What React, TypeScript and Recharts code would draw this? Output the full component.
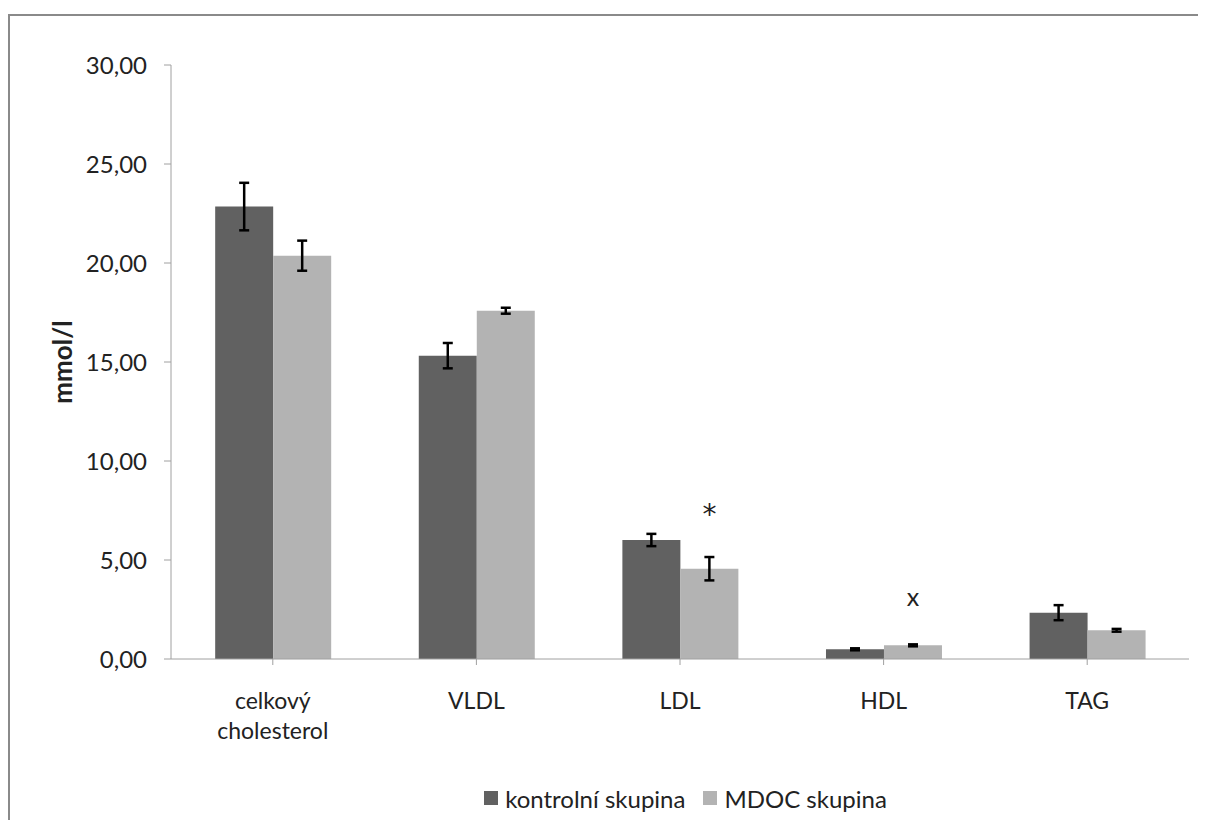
import {
  Bar,
  BarChart,
  ErrorBar,
  LabelList,
  Label,
  Legend,
  XAxis,
  YAxis,
} from "recharts";

const categories = ["celkový cholesterol", "VLDL", "LDL", "HDL", "TAG"];
const kontrolni = [22.85, 15.32, 6.01, 0.49, 2.34];
const kontrolniErr = [1.2, 0.64, 0.31, 0.05, 0.38];
const mdoc = [20.37, 17.59, 4.56, 0.69, 1.45];
const mdocErr = [0.76, 0.15, 0.59, 0.05, 0.07];
const marks = ["", "", "*", "x", ""];
const yTicks = [0, 5, 10, 15, 20, 25, 30];

const FONT = "Lato, 'Open Sans', sans-serif";
const DARK = "#616161";
const LIGHT = "#b3b3b3";
const AXIS = "#a0a0a0";

const data = categories.map((name, i) => ({
  name,
  kontrolni: kontrolni[i],
  kontrolniErr: kontrolniErr[i],
  mdoc: mdoc[i],
  mdocErr: mdocErr[i],
}));

// long names go on two lines, like the original
const CategoryTick = (props: any) => {
  const { x, y, payload } = props;
  const lines =
    payload.value.length > 12 ? payload.value.split(" ") : [payload.value];
  return (
    <text
      x={x}
      y={y + 42}
      textAnchor="middle"
      fontSize={23}
      fontFamily={FONT}
      fill="#222"
    >
      {lines.map((l: string, i: number) => (
        <tspan key={i} x={x} dy={i === 0 ? 0 : 30}>
          {l}
        </tspan>
      ))}
    </text>
  );
};

const markStyle: Record<string, { font: string; size: number; off: number }> = {
  "*": { font: "'DejaVu Sans', sans-serif", size: 28, off: 33 },
  x: { font: FONT, size: 25, off: 38 },
};

// significance marks sit above the upper error bar of the MDOC bar
const renderMark = (props: any) => {
  const vb = props.viewBox ?? props;
  const { x, y, width, height } = vb;
  const index = props.index;
  const mark = marks[index];
  if (!mark) return null;
  const st = markStyle[mark];
  const pxPerUnit = height / mdoc[index];
  const errTop = y - mdocErr[index] * pxPerUnit;
  return (
    <text
      x={x + width / 2}
      y={errTop - st.off}
      textAnchor="middle"
      fontSize={st.size}
      fontFamily={st.font}
      fill="#222"
    >
      {mark}
    </text>
  );
};

const renderYLabel = () => {
  const cx = 52;
  const cy = 346;
  return (
    <text
      x={cx}
      y={cy}
      transform={`rotate(-90, ${cx}, ${cy})`}
      textAnchor="middle"
      dominantBaseline="central"
      fontSize={26}
      fontWeight="bold"
      fontFamily={FONT}
      fill="#222"
    >
      mmol/l
    </text>
  );
};

const legendItems = [
  { label: "kontrolní skupina", color: DARK },
  { label: "MDOC skupina", color: LIGHT },
];

const renderLegend = () => (
  <div
    style={{
      width: 1188,
      height: 30,
      boxSizing: "border-box",
      paddingLeft: 163,
      display: "flex",
      justifyContent: "center",
      alignItems: "center",
      fontFamily: FONT,
      fontSize: 24,
      color: "#222",
    }}
  >
    {legendItems.map((it) => (
      <span
        key={it.label}
        style={{ display: "flex", alignItems: "center", margin: "0 9px" }}
      >
        <span
          style={{
            width: 14,
            height: 14,
            background: it.color,
            marginRight: 7,
            display: "inline-block",
          }}
        />
        {it.label}
      </span>
    ))}
  </div>
);

export default function App() {
  return (
    <div
      style={{
        position: "relative",
        width: 1198,
        height: 812,
        overflow: "hidden",
      }}
    >
      <style>{"html, body { overflow: hidden; }"}</style>
      <div
        style={{
          position: "absolute",
          left: 0,
          top: 6,
          width: 1400,
          height: 900,
          borderTop: "2px solid #8a8a8a",
          borderLeft: "2px solid #8a8a8a",
        }}
      />
      <div style={{ position: "absolute", left: 2, top: 8 }}>
        <BarChart
          width={1250}
          height={800}
          data={data}
          margin={{ top: 49, right: 71, bottom: 3, left: 0 }}
          barCategoryGap="21.7%"
          barGap={0}
          accessibilityLayer={false}
        >
          <XAxis
            dataKey="name"
            height={124}
            stroke={AXIS}
            tickSize={6}
            tickLine={{ stroke: AXIS }}
            tick={<CategoryTick />}
            interval={0}
          />
          <YAxis
            width={161}
            domain={[0, 30]}
            ticks={yTicks}
            stroke={AXIS}
            tickSize={7}
            tickMargin={17}
            tick={{ fontSize: 24, fontFamily: FONT, fill: "#222" }}
            tickFormatter={(v: number) => v.toFixed(2).replace(".", ",")}
          >
            <Label content={renderYLabel} />
          </YAxis>
          <Legend
            verticalAlign="bottom"
            content={renderLegend}
            wrapperStyle={{ left: 0, bottom: 3, width: 1188, height: 30 }}
          />
          <Bar dataKey="kontrolni" fill={DARK} isAnimationActive={false}>
            <ErrorBar
              dataKey="kontrolniErr"
              width={5}
              stroke="#000"
              strokeWidth={2.5}
              isAnimationActive={false}
            />
          </Bar>
          <Bar dataKey="mdoc" fill={LIGHT} isAnimationActive={false}>
            <ErrorBar
              dataKey="mdocErr"
              width={5}
              stroke="#000"
              strokeWidth={2.5}
              isAnimationActive={false}
            />
            <LabelList dataKey="mdoc" content={renderMark} />
          </Bar>
        </BarChart>
      </div>
    </div>
  );
}
